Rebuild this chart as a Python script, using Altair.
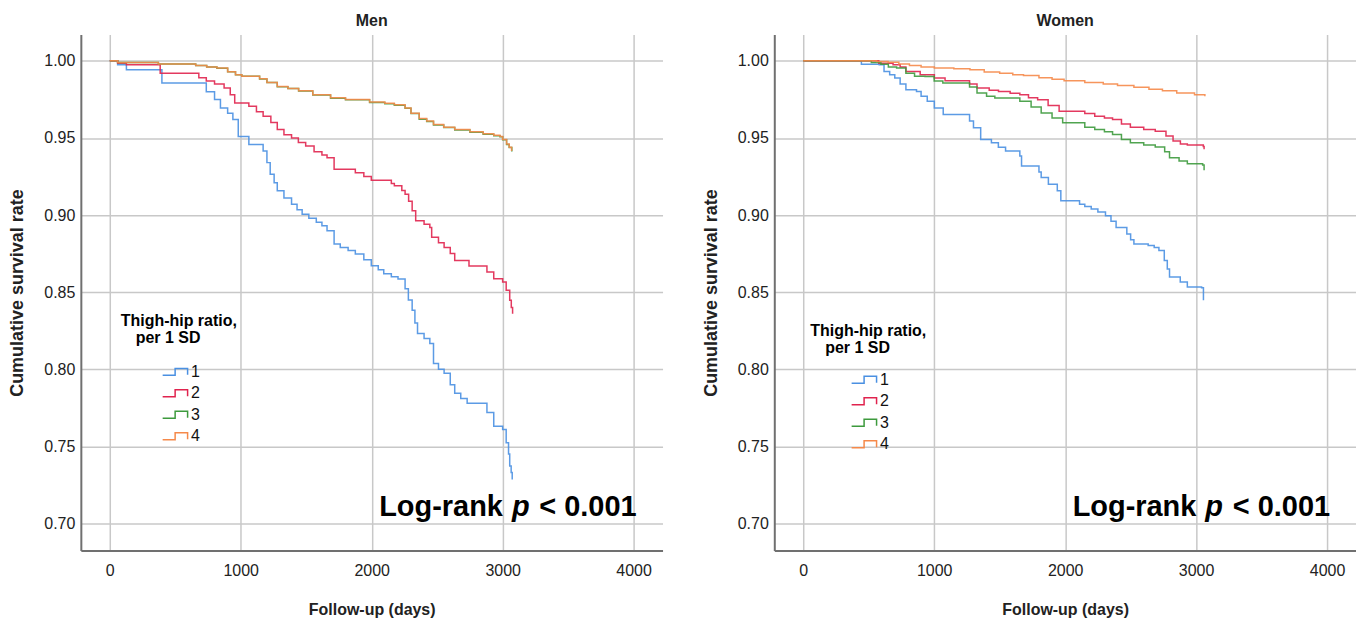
import altair as alt
import pandas as pd

FONT = "Liberation Sans"
groups = ["1", "2", "3", "4"]
group_colors = ["#4a90e2", "#e0234e", "#3d9a3d", "#f5894a"]
x_ticks = [0, 1000, 2000, 3000, 4000]
y_ticks = [0.70, 0.75, 0.80, 0.85, 0.90, 0.95, 1.00]
panel_titles = ["Men", "Women"]
legend_title_lines = ["Thigh-hip ratio,", "per 1 SD"]
x_title = "Follow-up (days)"
y_title = "Cumulative survival rate"
logrank_parts = ["Log-rank", "p", "< 0.001"]

# ---- Men ----
men_1_day = [0, 60, 127, 398, 737, 800, 845, 900, 940, 981, 1062, 1171, 1200, 1225, 1255, 1279, 1330, 1388,
             1430, 1469, 1520, 1577, 1620, 1659, 1713, 1760, 1820, 1875, 1940, 1997, 2050, 2092, 2150, 2201,
             2255, 2280, 2309, 2330, 2350, 2400, 2444, 2472, 2510, 2553, 2600, 2634, 2680, 2729, 2880, 2932,
             3000, 3027, 3045, 3054, 3065, 3073]
men_1_surv = [1.0, 0.9974, 0.9942, 0.9856, 0.980, 0.975, 0.9695, 0.966, 0.962, 0.951, 0.9458, 0.9415, 0.934,
              0.9265, 0.921, 0.9157, 0.911, 0.907, 0.9035, 0.9006, 0.898, 0.8953, 0.893, 0.8899, 0.8813, 0.879,
              0.877, 0.8748, 0.871, 0.8672, 0.8645, 0.8619, 0.860, 0.8586, 0.8522, 0.845, 0.8382, 0.830, 0.8232,
              0.820, 0.8167, 0.8038, 0.800, 0.7974, 0.790, 0.7845, 0.781, 0.778, 0.772, 0.763, 0.7609, 0.7523,
              0.745, 0.7372, 0.733, 0.7286]

men_2_day = [0, 60, 127, 385, 680, 737, 800, 873, 920, 954, 1062, 1120, 1171, 1230, 1279, 1330, 1388, 1440,
             1496, 1560, 1620, 1659, 1713, 1875, 1940, 1997, 2150, 2173, 2230, 2255, 2282, 2309, 2336, 2400,
             2444, 2458, 2510, 2553, 2600, 2634, 2743, 2880, 2932, 3000, 3027, 3054, 3066, 3076]
men_2_surv = [1.0, 0.9985, 0.9974, 0.992, 0.989, 0.987, 0.985, 0.9824, 0.978, 0.9727, 0.9705, 0.967, 0.964,
              0.960, 0.9555, 0.952, 0.950, 0.947, 0.9447, 0.941, 0.939, 0.9372, 0.9297, 0.9275, 0.925, 0.9226,
              0.9205, 0.919, 0.916, 0.9135, 0.909, 0.9028, 0.8963, 0.894, 0.892, 0.8856, 0.882, 0.879, 0.875,
              0.8705, 0.867, 0.863, 0.8587, 0.8566, 0.8512, 0.8447, 0.840, 0.836]

men_3_day = [0, 60, 371, 656, 740, 818, 900, 960, 1008, 1144, 1200, 1279, 1360, 1442, 1550, 1686, 1800, 1984,
             2100, 2173, 2255, 2300, 2363, 2420, 2472, 2550, 2634, 2750, 2851, 2932, 2980, 3000, 3030, 3050,
             3070]
men_3_surv = [1.0, 0.999, 0.998, 0.997, 0.996, 0.9952, 0.993, 0.991, 0.990, 0.9882, 0.986, 0.9832, 0.982,
              0.9804, 0.9778, 0.9758, 0.9748, 0.973, 0.9722, 0.9712, 0.9692, 0.9658, 0.9622, 0.9607, 0.9584,
              0.9567, 0.9552, 0.9537, 0.9524, 0.9515, 0.9507, 0.9488, 0.9458, 0.9438, 0.9412]

men_4_day = [0, 60, 371, 656, 740, 818, 900, 960, 1008, 1144, 1200, 1279, 1360, 1442, 1550, 1686, 1800, 1984,
             2100, 2173, 2255, 2300, 2363, 2420, 2472, 2550, 2634, 2750, 2851, 2932, 2980, 3000, 3030, 3050,
             3068]
men_4_surv = [1.0, 0.999, 0.998, 0.997, 0.996, 0.9953, 0.993, 0.991, 0.990, 0.9884, 0.986, 0.9834, 0.982,
              0.9806, 0.978, 0.976, 0.975, 0.9733, 0.9725, 0.9716, 0.9695, 0.966, 0.9626, 0.961, 0.9587, 0.957,
              0.9555, 0.954, 0.9527, 0.9518, 0.951, 0.949, 0.946, 0.944, 0.9415]

# ---- Women ----
women_1_day = [0, 444, 580, 617, 660, 699, 740, 784, 865, 900, 947, 1001, 1069, 1270, 1300, 1355, 1437, 1490,
               1545, 1654, 1667, 1800, 1817, 1872, 1940, 1967, 2110, 2150, 2199, 2250, 2308, 2350, 2389, 2471,
               2500, 2525, 2634, 2680, 2716, 2757, 2780, 2797, 2879, 2933, 3042, 3056]
women_1_surv = [1.0, 0.9978, 0.9974, 0.9931, 0.991, 0.9888, 0.985, 0.9813, 0.9802, 0.977, 0.9738, 0.9695,
                0.9652, 0.961, 0.9566, 0.949, 0.9469, 0.944, 0.9415, 0.9383, 0.9318, 0.928, 0.9243, 0.920,
                0.9157, 0.9093, 0.907, 0.9055, 0.9039, 0.902, 0.8996, 0.896, 0.892, 0.8877, 0.884, 0.8813,
                0.8802, 0.879, 0.877, 0.8705, 0.865, 0.8598, 0.8566, 0.8533, 0.8529, 0.8447]

women_2_day = [0, 444, 577, 686, 740, 784, 893, 1001, 1083, 1270, 1327, 1420, 1491, 1580, 1654, 1720, 1790,
               1870, 1954, 2150, 2226, 2300, 2362, 2430, 2498, 2600, 2688, 2770, 2824, 2880, 2933, 3055, 3061]
women_2_surv = [1.0, 1.0, 0.9985, 0.9974, 0.996, 0.9931, 0.991, 0.9888, 0.9871, 0.985, 0.9824, 0.981, 0.9802,
                0.979, 0.978, 0.976, 0.9748, 0.971, 0.9673, 0.9658, 0.9641, 0.963, 0.9619, 0.959, 0.957, 0.9555,
                0.9544, 0.9512, 0.948, 0.946, 0.9454, 0.9445, 0.9426]

women_3_day = [0, 444, 520, 593, 650, 713, 784, 850, 930, 1000, 1066, 1270, 1327, 1400, 1463, 1654, 1740, 1817,
               1900, 1981, 2150, 2226, 2300, 2362, 2430, 2498, 2600, 2688, 2760, 2797, 2870, 2933, 3050, 3061]
women_3_surv = [1.0, 1.0, 0.999, 0.9978, 0.996, 0.9953, 0.992, 0.990, 0.9899, 0.987, 0.9856, 0.983, 0.9791,
                0.977, 0.9759, 0.9738, 0.970, 0.9662, 0.963, 0.9598, 0.957, 0.9555, 0.954, 0.9523, 0.949,
                0.9469, 0.9455, 0.9441, 0.941, 0.9372, 0.935, 0.9333, 0.9325, 0.929]

women_4_day = [0, 444, 560, 648, 730, 811, 900, 1001, 1150, 1273, 1382, 1500, 1600, 1682, 1800, 1900, 1992,
               2150, 2291, 2400, 2525, 2640, 2743, 2852, 2988, 3067]
women_4_surv = [1.0, 1.0, 0.9995, 0.9991, 0.998, 0.997, 0.996, 0.9953, 0.9948, 0.9942, 0.9927, 0.992, 0.991,
                0.9905, 0.989, 0.988, 0.9871, 0.986, 0.985, 0.984, 0.9828, 0.9815, 0.9806, 0.9791, 0.978, 0.977]

men_series = [(men_1_day, men_1_surv), (men_2_day, men_2_surv), (men_3_day, men_3_surv), (men_4_day, men_4_surv)]
women_series = [(women_1_day, women_1_surv), (women_2_day, women_2_surv), (women_3_day, women_3_surv),
                (women_4_day, women_4_surv)]


def to_frame(series):
    rows = []
    for g, (days, surv) in zip(groups, series):
        for d, s in zip(days, surv):
            rows.append({"day": d, "surv": s, "group": g})
    return pd.DataFrame(rows)


STEP_SYMBOL = "M-2.5,0.7L0,0.7L0,-0.7L2.5,-0.7L2.5,0.6"
W, H = 583, 517


def txt(text, x, y, size, align="left", baseline="alphabetic", style="normal"):
    one = pd.DataFrame({"k": [0]})
    return alt.Chart(one).mark_text(text=text, align=align, baseline=baseline, font=FONT, fontSize=size,
                                    fontWeight="bold", fontStyle=style, color="#000").encode(
        x=alt.value(x), y=alt.value(y))


def panel(series, title, legend_x, legend_y, ltitle_x, ltitle_y):
    df = to_frame(series)
    lines = alt.Chart(df).mark_line(interpolate="step-after", strokeWidth=1.5, strokeOpacity=0.9).encode(
        x=alt.X("day:Q",
                scale=alt.Scale(domain=[-221, 4221], nice=False, zero=False),
                axis=alt.Axis(values=x_ticks, title=x_title, format="d")),
        y=alt.Y("surv:Q",
                scale=alt.Scale(domain=[0.6825, 1.017], nice=False, zero=False),
                axis=alt.Axis(values=y_ticks, title=y_title, format=".2f")),
        color=alt.Color("group:N",
                        scale=alt.Scale(domain=groups, range=group_colors),
                        legend=alt.Legend(orient="none", legendX=legend_x, legendY=legend_y, title=None,
                                          symbolType=STEP_SYMBOL, symbolSize=100, symbolStrokeWidth=1.5,
                                          symbolFillColor="transparent",
                                          labelFont=FONT, labelFontSize=16, labelColor="#111",
                                          labelOffset=8, rowPadding=5.5, padding=0)),
        order="day:Q",
    )
    lt1 = txt(legend_title_lines[0], ltitle_x, ltitle_y, 16, baseline="middle")
    lt2 = txt(legend_title_lines[1], ltitle_x + 15, ltitle_y + 17, 16, baseline="middle")
    lr1 = txt(logrank_parts[0], 299, 482, 29)
    lr2 = txt(logrank_parts[1], 432, 482, 29, style="italic")
    lr3 = txt(logrank_parts[2], 557, 482, 29, align="right")
    return alt.layer(lines, lt1, lt2, lr1, lr2, lr3).properties(
        width=W, height=H,
        title=alt.TitleParams(title, font=FONT, fontSize=16, fontWeight="bold", color="#222", offset=6),
    )


men = panel(men_series, panel_titles[0], 86.5, 330, 40, 287)
women = panel(women_series, panel_titles[1], 82, 338, 36, 297)

chart = alt.hconcat(men, women, spacing=39).resolve_scale(color="independent").properties(
    padding={"left": 0, "top": 4, "right": 0, "bottom": 5}
).configure_view(
    stroke=None
).configure_axis(
    labelFont=FONT, labelFontSize=16, labelColor="#222",
    titleFont=FONT, titleFontWeight="bold", titleColor="#222",
    domainColor="#707070", domainWidth=2,
    ticks=False,
    grid=True, gridColor="#c8c8c8", gridWidth=1.5,
).configure_axisX(
    labelPadding=12, titleFontSize=16, titlePadding=23,
).configure_axisY(
    labelPadding=6, titleFontSize=18, titlePadding=17,
)

chart.save("out.html", embed_options={"renderer": "svg", "actions": False})
